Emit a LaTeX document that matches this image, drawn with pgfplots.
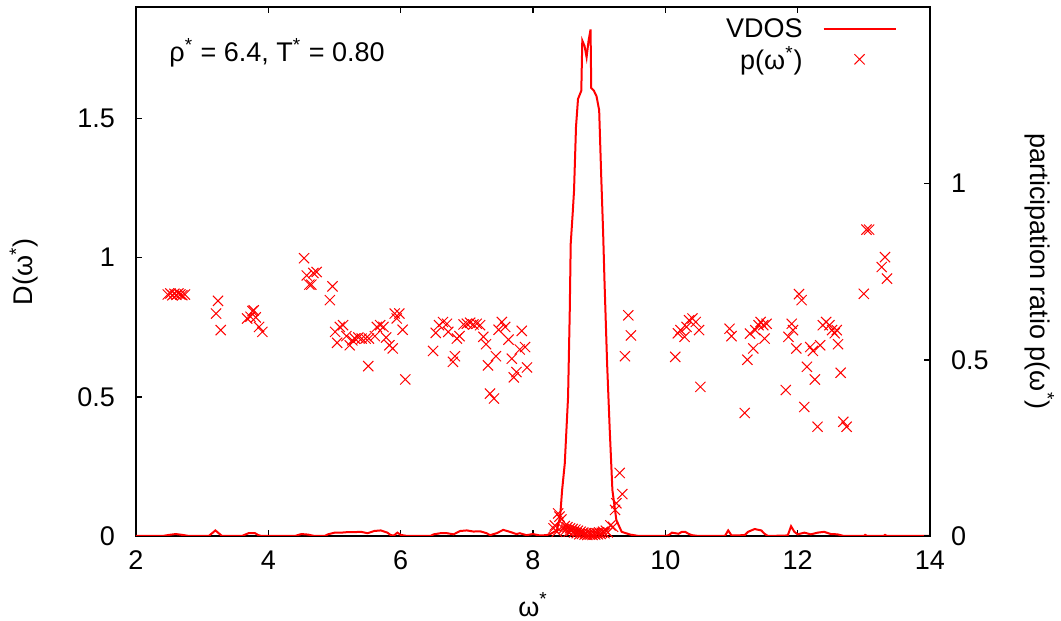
\documentclass[border=0pt]{standalone}
\usepackage{pgfplots}
\pgfplotsset{compat=1.18}
\usepackage{fontspec}
\setmainfont{Liberation Sans}
\newcommand{\fs}{\fontsize{13.5pt}{16pt}\selectfont}

\pgfplotstableread{
w d
2.00 0
2.40 0
2.50 0.004
2.60 0.007
2.70 0.004
2.80 0
3.10 0
3.20 0.02
3.30 0
3.60 0
3.70 0.01
3.80 0.01
3.85 0.003
3.90 0
4.40 0
4.50 0.007
4.60 0.005
4.70 0
4.85 0
4.90 0.006
5.00 0.012
5.10 0.012
5.20 0.014
5.30 0.014
5.40 0.015
5.50 0.01
5.60 0.018
5.70 0.02
5.80 0.012
5.85 0.003
5.90 0.002
5.95 0.012
6.00 0.004
6.10 0
6.45 0
6.50 0.006
6.60 0.01
6.70 0.01
6.80 0.006
6.90 0.018
7.00 0.02
7.10 0.016
7.20 0.017
7.30 0.01
7.35 0.003
7.45 0.01
7.55 0.022
7.65 0.015
7.75 0.007
7.80 0.01
7.90 0.003
8.00 0.007
8.10 0.002
8.20 0.003
8.26 0.007
8.36 0.02
8.41 0.069
8.44 0.165
8.48 0.26
8.53 0.50
8.555 0.80
8.57 1.05
8.60 1.16
8.62 1.24
8.65 1.47
8.68 1.57
8.73 1.60
8.745 1.78
8.78 1.76
8.81 1.72
8.84 1.78
8.87 1.82
8.88 1.61
8.92 1.60
8.96 1.58
9.00 1.53
9.03 1.30
9.06 1.09
9.08 0.92
9.12 0.62
9.16 0.38
9.20 0.165
9.26 0.057
9.34 0.015
9.47 0.005
9.60 0
10.00 0
10.05 0.003
10.10 0.012
10.20 0.008
10.25 0.015
10.30 0.015
10.35 0.008
10.40 0.003
10.50 0
10.90 0
10.95 0.02
11.00 0.002
11.20 0.003
11.25 0.015
11.35 0.025
11.45 0.02
11.50 0.008
11.55 0
11.85 0.002
11.90 0.035
11.95 0.015
12.00 0.006
12.10 0.012
12.20 0.006
12.30 0.012
12.40 0.015
12.50 0.007
12.60 0.006
12.70 0
13.00 0
13.02 0.004
13.05 0
13.30 0
13.32 0.004
13.35 0
14.00 0
}\vdos

\pgfplotstableread{
w p
2.48 0.685
2.52 0.688
2.55 0.683
2.58 0.687
2.61 0.684
2.64 0.688
2.67 0.685
2.70 0.683
2.74 0.685
3.24 0.667
3.21 0.631
3.28 0.584
3.68 0.617
3.73 0.622
3.76 0.638
3.78 0.640
3.81 0.620
3.86 0.593
3.91 0.579
4.54 0.788
4.58 0.739
4.62 0.713
4.65 0.713
4.68 0.746
4.73 0.749
4.93 0.669
4.97 0.708
5.01 0.579
5.04 0.548
5.08 0.593
5.13 0.598
5.18 0.567
5.23 0.541
5.27 0.555
5.31 0.560
5.36 0.563
5.41 0.560
5.47 0.560
5.51 0.482
5.52 0.560
5.61 0.567
5.64 0.593
5.69 0.598
5.74 0.593
5.78 0.563
5.83 0.541
5.88 0.532
5.91 0.631
5.94 0.617
5.98 0.631
6.03 0.585
6.07 0.444
6.49 0.525
6.53 0.576
6.58 0.598
6.64 0.607
6.70 0.602
6.72 0.579
6.79 0.494
6.82 0.510
6.85 0.560
6.89 0.567
6.95 0.600
7.00 0.602
7.05 0.605
7.10 0.600
7.15 0.602
7.20 0.598
7.25 0.565
7.29 0.544
7.32 0.484
7.35 0.404
7.41 0.390
7.44 0.510
7.48 0.585
7.53 0.607
7.58 0.593
7.63 0.557
7.68 0.503
7.71 0.450
7.75 0.465
7.80 0.529
7.83 0.582
7.88 0.536
7.91 0.478
8.31 0.022
8.33 0.030
8.36 0.012
8.38 0.064
8.40 0.055
8.43 0.047
8.46 0.020
8.48 0.028
8.50 0.018
8.52 0.025
8.54 0.012
8.56 0.022
8.58 0.015
8.60 0.020
8.62 0.010
8.64 0.018
8.66 0.008
8.68 0.015
8.70 0.005
8.72 0.012
8.74 0.006
8.76 0.010
8.78 0.004
8.80 0.008
8.82 0.003
8.84 0.007
8.86 0.004
8.88 0.006
8.90 0.003
8.92 0.007
8.94 0.004
8.96 0.008
8.98 0.005
9.00 0.010
9.02 0.006
9.04 0.009
9.06 0.012
9.08 0.008
9.10 0.015
9.13 0.010
9.17 0.030
9.21 0.026
9.24 0.074
9.26 0.093
9.31 0.179
9.35 0.119
9.39 0.510
9.44 0.626
9.48 0.569
10.15 0.508
10.19 0.575
10.23 0.584
10.29 0.565
10.32 0.593
10.36 0.612
10.41 0.617
10.46 0.607
10.51 0.584
10.53 0.423
10.97 0.588
11.00 0.567
11.20 0.349
11.24 0.500
11.28 0.574
11.33 0.532
11.36 0.584
11.41 0.598
11.44 0.607
11.48 0.598
11.50 0.560
11.53 0.602
11.82 0.414
11.86 0.565
11.91 0.602
11.93 0.584
11.98 0.532
12.02 0.686
12.06 0.669
12.10 0.366
12.14 0.480
12.19 0.536
12.23 0.525
12.26 0.444
12.30 0.310
12.34 0.541
12.38 0.598
12.43 0.607
12.48 0.598
12.52 0.584
12.56 0.575
12.59 0.584
12.61 0.544
12.65 0.463
12.69 0.324
12.74 0.310
13.00 0.687
13.04 0.869
13.08 0.869
13.27 0.763
13.32 0.791
13.35 0.730
}\prat

\begin{document}
\begin{tikzpicture}[font=\fs]
\pgfplotsset{
  common/.style={
    scale only axis, width=397pt, height=264.4pt,
    at={(0pt,0pt)}, anchor=south west,
    xmin=2, xmax=14,
    tick align=inside,
    major tick length=3pt,
    axis line style={line width=1pt},
    every tick/.style={black, line width=0.8pt},
    /pgf/number format/assume math mode=true,
    tick label style={font=\fs},
    label style={font=\fs},
  }
}
\begin{axis}[
  common,
  ymin=0, ymax=1.9,
  xtick={2,4,...,14},
  ytick={0,0.5,1,1.5},
  ytick pos=left, xtick pos=both,
  xlabel={ω\textsuperscript{*}},
  ylabel={D(ω\textsuperscript{*})},
  every axis x label/.style={at={(axis description cs:0.5,-0.13)}, anchor=center},
  every axis y label/.style={at={(axis description cs:-0.141,0.5)}, anchor=center, rotate=90},
  yticklabel style={xshift=-7pt},
  xticklabel style={yshift=-4pt},
]
\addplot[red, line width=1pt, mark=none] table[x=w, y=d] {\vdos};
\node[anchor=west, inner sep=0pt] at (axis cs:2.5,1.737) {ρ\textsuperscript{*} = 6.4, T\textsuperscript{*} = 0.80};
\end{axis}
\begin{axis}[
  common,
  ymin=0, ymax=1.5,
  axis x line=none, axis y line*=right,
  ytick={0,0.5,1},
  ytick pos=right,
  ylabel={participation ratio p(ω\textsuperscript{*})},
  every axis y label/.style={at={(axis description cs:1.138,0.5)}, anchor=center, rotate=-90},
  yticklabel style={xshift=7pt},
  legend plot pos=right,
  legend cell align=right,
  legend style={at={(axis description cs:0.966,0.995)}, anchor=north east, draw=none, fill=none, font=\fs, row sep=-1pt, column sep=8pt},
  legend image code/.code={\draw[mark repeat=2,mark phase=2,#1] plot coordinates {(0pt,0pt) (18pt,0pt) (36pt,0pt)};},
]
\addlegendimage{red, line width=1pt}
\addlegendentry{VDOS}
\addplot[only marks, mark=x, red, mark size=3.6pt, mark options={line width=0.5pt}] table[x=w, y=p] {\prat};
\addlegendentry{p(ω\textsuperscript{*})}
\end{axis}
\pgfresetboundingbox
\path[use as bounding box] (-68pt,-42.5pt) rectangle (462.5pt,268pt);
\end{tikzpicture}
\end{document}
